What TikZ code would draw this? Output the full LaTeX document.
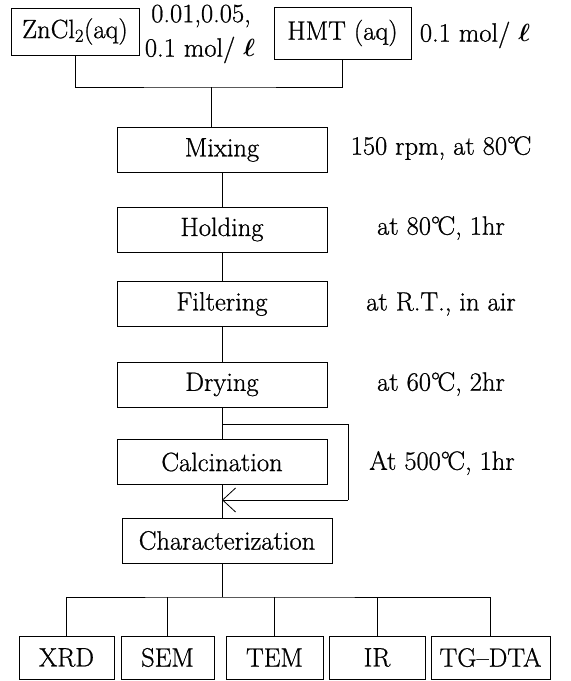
\documentclass[tikz,border=0pt]{standalone}
\usepackage{amsmath}
\usepackage{fontspec}
\setmainfont{Latin Modern Roman}[FakeBold=0.8]
\usetikzlibrary{arrows.meta}
\tikzset{
  box/.style={draw, line width=0.8pt, inner sep=0pt, minimum height=45pt, font=\fontsize{26.5}{30}\selectfont},
  lbl/.style={inner sep=0pt, font=\fontsize{26.5}{30}\selectfont},
  conn/.style={line width=0.8pt},
}
\newcommand{\degC}{°\kern-0.1em C}
\newcommand{\litre}{$\boldsymbol{\ell}$}
\begin{document}
\begin{tikzpicture}[x=1pt,y=-1pt]
\useasboundingbox (0,0) rectangle (571,681);
% top inputs
\node[box, minimum width=128pt, minimum height=47pt] (zn) at (75,31.5) {ZnCl\textsubscript{2}(aq)};
\node[box, minimum width=137pt, minimum height=52pt] (hmt) at (342.5,33) {HMT (aq)};
\node[lbl] (c1) at (201,16) {0.01,0.05,};
\node[lbl] (c2) at (200,50) {0.1 mol/ \litre};
\node[lbl] (c3) at (475,35) {0.1 mol/ \litre};
\coordinate (j) at (211,87);
% main column
\node[box, minimum width=210pt] (mix) at (222,150) {Mixing};
\node[box, minimum width=210pt] (hold) at (222,229.5) {Holding};
\node[box, minimum width=210pt] (filt) at (222,304) {Filtering};
\node[box, minimum width=210pt] (dry) at (222,384.5) {Drying};
\node[box, minimum width=210pt] (calc) at (222,462) {Calcination};
\node[box, minimum width=210pt] (char) at (227,540.5) {Characterization};
% conditions
\node[lbl] (t1) at (441,148) {150 rpm, at 80\degC};
\node[lbl] (t2) at (441,228) {at 80\degC, 1hr};
\node[lbl] (t3) at (441,304) {at R.T., in air};
\node[lbl] (t4) at (441,384) {at 60\degC, 2hr};
\node[lbl] (t5) at (442,463) {At 500\degC, 1hr};
% bottom row
\node[box, minimum width=95pt, minimum height=43pt] (xrd) at (66.5,657.5) {XRD};
\node[box, minimum width=93pt, minimum height=43pt] (sem) at (167.5,657.5) {SEM};
\node[box, minimum width=97pt, minimum height=43pt] (tem) at (274.5,657.5) {TEM};
\node[box, minimum width=96pt, minimum height=43pt] (ir) at (377,657.5) {IR};
\node[box, minimum width=119pt, minimum height=43pt] (tga) at (490.5,657.5) {TG--DTA};
\coordinate (b) at (222,597);
\coordinate (la) at (222,424);
\coordinate (lb) at (348,424);
\coordinate (lc) at (348,500);
% connectors
\draw[conn] (zn.south) |- (j) -| (hmt.south);
\draw[conn] (j) -- (j |- mix.north);
\draw[conn] (mix) -- (hold);
\draw[conn] (hold) -- (filt);
\draw[conn] (filt) -- (dry);
\draw[conn] (dry) -- (calc);
\draw[conn] (la) -- (lb) -- (lc);
\draw[conn, -{Straight Barb[length=13pt,width=24pt]}] (lc) -- (calc.south |- lc);
\draw[conn] (calc.south) -- (calc.south |- char.north);
\draw[conn] (b |- char.south) -- (b);
\draw[conn] (xrd.north) |- (b) -| (tga.north);
\draw[conn] (sem.north) -- (sem.north |- b);
\draw[conn] (tem.north) -- (tem.north |- b);
\draw[conn] (ir.north) -- (ir.north |- b);
\end{tikzpicture}
\end{document}
